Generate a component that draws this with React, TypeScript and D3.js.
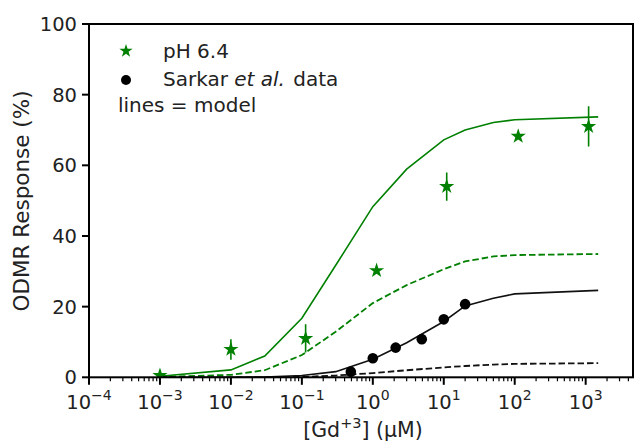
import React from "react";
import * as d3 from "d3";

// Gd3+ concentration grid (µM) at which the model curves are evaluated
const modelConc = [0.001, 0.01, 0.03, 0.1, 0.3, 1, 3, 10, 20, 50, 100, 1500];
// Model response curves (%)
const modelPH64Solid = [0.3, 2.1, 6.0, 16.7, 31.7, 48.3, 58.9, 67.2, 70.0, 72.1, 72.9, 73.7];
const modelPH64Dashed = [0.1, 0.7, 2.0, 6.3, 12.9, 21.0, 26.1, 30.6, 32.8, 34.2, 34.6, 34.9];
const modelSarkarSolid = [0.0, 0.0, 0.1, 0.5, 1.6, 5.1, 9.8, 15.8, 20.2, 22.4, 23.6, 24.6];
const modelSarkarDashed = [0.0, 0.0, 0.0, 0.1, 0.5, 1.2, 2.0, 2.8, 3.2, 3.6, 3.8, 4.0];

// Measured pH 6.4 response with error bars
const ph64Conc = [0.001, 0.01, 0.113, 1.13, 11, 112, 1100];
const ph64Resp = [0.5, 7.9, 11.0, 30.2, 54.0, 68.2, 71.0];
const ph64Err = [1.5, 2.9, 4.0, 0.8, 4.0, 0.8, 5.7];

// Sarkar et al. data
const sarkarConc = [0.49, 1.0, 2.1, 4.9, 10, 20];
const sarkarResp = [1.6, 5.4, 8.4, 10.8, 16.4, 20.7];

const yTicks = [0, 20, 40, 60, 80, 100];
const xTickExps = [-4, -3, -2, -1, 0, 1, 2, 3];

const GREEN = "#008000";
const FONT = "DejaVu Sans, sans-serif";

export default function App() {
  const W = 635;
  const H = 442;
  const left = 89;
  const right = 633;
  const top = 24;
  const bottom = 377.3;

  const x = d3.scaleLog().domain([1e-4, Math.pow(10, 3.667)]).range([left, right]);
  const y = d3.scaleLinear().domain([0, 100]).range([bottom, top]);

  const line = d3
    .line<[number, number]>()
    .x((d) => x(d[0]))
    .y((d) => y(d[1]));

  const series = (vals: number[]) => modelConc.map((c, i) => [c, vals[i]] as [number, number]);

  const minorTicks: number[] = [];
  for (let e = -4; e <= 3; e++) {
    for (let m = 2; m <= 9; m++) {
      const v = m * Math.pow(10, e);
      if (v < x.domain()[1]) minorTicks.push(v);
    }
  }

  const star = d3.symbol().type(d3.symbolStar).size(72)();
  const legendStar = d3.symbol().type(d3.symbolStar).size(55)();

  return (
    <svg
      width={W}
      height={H}
      style={{ position: "absolute", left: 0, top: 0, background: "#fff" }}
      fontFamily={FONT}
    >
      <defs>
        <clipPath id="plotArea">
          <rect x={left} y={top} width={right - left} height={bottom - top} />
        </clipPath>
      </defs>
      <rect width={W} height={H} fill="#fff" />

      <g clipPath="url(#plotArea)">
        <path d={line(series(modelPH64Solid)) || ""} fill="none" stroke={GREEN} strokeWidth={1.6} />
        <path
          d={line(series(modelPH64Dashed)) || ""}
          fill="none"
          stroke={GREEN}
          strokeWidth={1.8}
          strokeDasharray="6.5,3"
        />
        <path d={line(series(modelSarkarSolid)) || ""} fill="none" stroke="#111" strokeWidth={1.6} />
        <path
          d={line(series(modelSarkarDashed)) || ""}
          fill="none"
          stroke="#111"
          strokeWidth={1.8}
          strokeDasharray="6.5,3"
        />

        {ph64Conc.map((c, i) => (
          <g key={"s" + i}>
            <line
              x1={x(c)}
              x2={x(c)}
              y1={y(ph64Resp[i] - ph64Err[i])}
              y2={y(ph64Resp[i] + ph64Err[i])}
              stroke={GREEN}
              strokeWidth={1.6}
            />
            <path d={star || ""} transform={`translate(${x(c)},${y(ph64Resp[i])})`} fill={GREEN} />
          </g>
        ))}

        {sarkarConc.map((c, i) => (
          <circle key={"c" + i} cx={x(c)} cy={y(sarkarResp[i])} r={5.3} fill="#000" />
        ))}
      </g>

      {/* frame */}
      <rect
        x={left}
        y={top}
        width={right - left}
        height={bottom - top}
        fill="none"
        stroke="#000"
        strokeWidth={2}
      />

      {/* y axis */}
      {yTicks.map((t) => (
        <g key={"y" + t}>
          <line x1={left - 7} x2={left} y1={y(t)} y2={y(t)} stroke="#000" strokeWidth={2} />
          <text x={left - 12} y={y(t)} dy="0.36em" textAnchor="end" fontSize={19.5} fill="#222">
            {t}
          </text>
        </g>
      ))}

      {/* x axis */}
      {minorTicks.map((t, i) => (
        <line key={"m" + i} x1={x(t)} x2={x(t)} y1={bottom} y2={bottom + 4} stroke="#000" strokeWidth={1.2} />
      ))}
      {xTickExps.map((e) => {
        const px = x(Math.pow(10, e));
        const sup = e < 0 ? "\u2212" + Math.abs(e) : String(e);
        return (
          <g key={"x" + e}>
            <line x1={px} x2={px} y1={bottom} y2={bottom + 7.5} stroke="#000" strokeWidth={2} />
            <text x={px} y={408.5} textAnchor="middle" fontSize={19.5} fill="#222">
              10
              <tspan fontSize={14} dy={-8.5}>
                {sup}
              </tspan>
            </text>
          </g>
        );
      })}

      {/* axis labels */}
      <text x={363} y={436.5} textAnchor="middle" fontSize={20.5} fill="#222">
        [Gd
        <tspan fontSize={14.5} dy={-8.5}>
          +3
        </tspan>
        <tspan dy={8.5}>] (μM)</tspan>
      </text>
      <text
        transform="translate(29,201) rotate(-90)"
        textAnchor="middle"
        fontSize={21.5}
        fill="#222"
      >
        ODMR Response (%)
      </text>

      {/* legend */}
      <path d={legendStar || ""} transform="translate(126,51)" fill={GREEN} />
      <text x={163} y={57.5} fontSize={20} fill="#222">
        pH 6.4
      </text>
      <circle cx={126} cy={80} r={5} fill="#000" />
      <text x={163} y={86} fontSize={20} fill="#222" style={{ whiteSpace: "pre" }}>
        <tspan>{"Sarkar "}</tspan>
        <tspan fontStyle="italic">et al.</tspan>
        <tspan dx={2}>{" data"}</tspan>
      </text>
      <text x={118} y={112} fontSize={20} fill="#222">
        lines = model
      </text>
    </svg>
  );
}
